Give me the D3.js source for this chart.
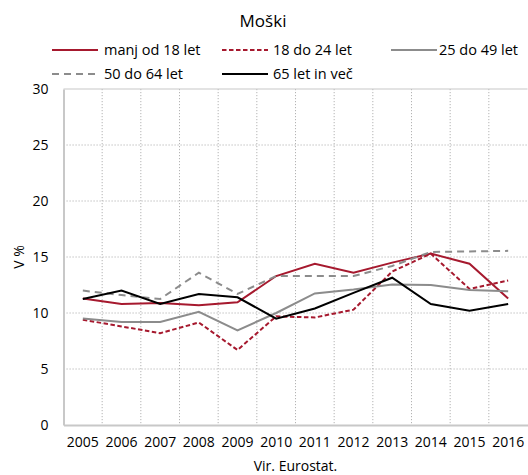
<!DOCTYPE html>
<html>
<head>
<meta charset="utf-8">
<script src="https://cdn.jsdelivr.net/npm/d3@7"></script>
<style>
  html, body { margin: 0; padding: 0; background: #fff; }
  svg { display: block; font-family: "Open Sans", "Noto Sans", sans-serif; }
</style>
</head>
<body>
<div id="chart"></div>
<script>
// Years on the category axis
const years = ["2005","2006","2007","2008","2009","2010","2011","2012","2013","2014","2015","2016"];

// Share by age group, in %
const under18   = [11.3, 10.8, 10.9, 10.7, 10.95, 13.3, 14.4, 13.6, 14.5, 15.3, 14.4, 11.3];
const age18to24 = [9.4, 8.8, 8.2, 9.15, 6.7, 9.7, 9.6, 10.3, 13.7, 15.3, 12.15, 12.9];
const age25to49 = [9.5, 9.2, 9.2, 10.1, 8.45, 10.0, 11.75, 12.1, 12.55, 12.5, 12.05, 11.95];
const age50to64 = [12.0, 11.6, 11.25, 13.6, 11.7, 13.3, 13.3, 13.3, 14.2, 15.45, 15.5, 15.55];
const age65plus = [11.25, 12.0, 10.8, 11.7, 11.4, 9.5, 10.4, 11.8, 13.15, 10.8, 10.2, 10.8];

const seriesNames = ["manj od 18 let", "18 do 24 let", "25 do 49 let", "50 do 64 let", "65 let in več"];
const yTicks = [0, 5, 10, 15, 20, 25, 30];

const title = "Moški";
const yLabel = "V %";
const source = "Vir. Eurostat.";

const series = [
  { name: seriesNames[0], values: under18,   color: "#a6192e", dash: null },
  { name: seriesNames[1], values: age18to24, color: "#a6192e", dash: "4.5,2.5" },
  { name: seriesNames[2], values: age25to49, color: "#8c8c8c", dash: null },
  { name: seriesNames[3], values: age50to64, color: "#8c8c8c", dash: "7,5" },
  { name: seriesNames[4], values: age65plus, color: "#000000", dash: null }
];

const W = 528, H = 475;
const plot = { left: 63.5, right: 527.5, top: 89, bottom: 425 };

const svg = d3.select("#chart").append("svg")
  .attr("width", W).attr("height", H);

const x = d3.scaleBand().domain(years).range([plot.left, plot.right]);
const y = d3.scaleLinear().domain([0, 30]).range([plot.bottom, plot.top]);
const cx = yr => x(yr) + x.bandwidth() / 2;

const gridColor = "#b4b4b4";

// Dotted horizontal gridlines
svg.append("g").selectAll("line")
  .data(yTicks.filter(t => t > 0 && t < 30))
  .join("line")
  .attr("x1", plot.left).attr("x2", plot.right)
  .attr("y1", d => y(d)).attr("y2", d => y(d))
  .attr("stroke", gridColor).attr("stroke-width", 1)
  .attr("stroke-dasharray", "1.2,1.8");

// Dotted vertical gridlines at category boundaries
svg.append("g").selectAll("line")
  .data(years.slice(1))
  .join("line")
  .attr("x1", d => x(d)).attr("x2", d => x(d))
  .attr("y1", plot.top).attr("y2", plot.bottom)
  .attr("stroke", gridColor).attr("stroke-width", 1)
  .attr("stroke-dasharray", "1.2,1.8");

// Top edge of the plot frame
svg.append("line")
  .attr("x1", plot.left).attr("x2", plot.right)
  .attr("y1", y(30)).attr("y2", y(30))
  .attr("stroke", "#c8c8c8").attr("stroke-width", 1.2);

// Y axis
const yAxis = svg.append("g")
  .attr("transform", `translate(${plot.left},0)`)
  .call(d3.axisLeft(y).tickValues(yTicks).tickSize(0).tickPadding(15));
yAxis.select(".domain").attr("stroke", "#c8c8c8").attr("stroke-width", 2);
yAxis.selectAll("text")
  .attr("font-size", 14).attr("fill", "#000")
  .attr("font-family", "'Open Sans', sans-serif");

// X axis
const xAxis = svg.append("g")
  .attr("transform", `translate(0,${plot.bottom})`)
  .call(d3.axisBottom(x).tickSize(0).tickPadding(12));
xAxis.select(".domain").attr("stroke", "#c8c8c8").attr("stroke-width", 2);
xAxis.selectAll("text")
  .attr("font-size", 14).attr("fill", "#000")
  .attr("font-family", "'Open Sans', sans-serif");

// Series lines
const line = d3.line()
  .x((d, i) => cx(years[i]))
  .y(d => y(d));

svg.append("g").selectAll("path")
  .data(series)
  .join("path")
  .attr("d", d => line(d.values))
  .attr("fill", "none")
  .attr("stroke", d => d.color)
  .attr("stroke-width", 2)
  .attr("stroke-dasharray", d => d.dash)
  .attr("stroke-linejoin", "miter");

// Title
svg.append("text")
  .attr("x", 263).attr("y", 27)
  .attr("text-anchor", "middle")
  .attr("font-size", 17).attr("fill", "#000")
  .text(title);

// Legend
const legendPos = [
  { lx: 52, ly: 50, tx: 52 },
  { lx: 222, ly: 50, tx: 51 },
  { lx: 391, ly: 50, tx: 48 },
  { lx: 52, ly: 74, tx: 52 },
  { lx: 222, ly: 74, tx: 51 }
];
const legend = svg.append("g").selectAll("g")
  .data(series)
  .join("g")
  .attr("transform", (d, i) => `translate(${legendPos[i].lx},${legendPos[i].ly})`);
legend.append("line")
  .attr("x1", 0).attr("x2", 46).attr("y1", 0).attr("y2", 0)
  .attr("stroke", d => d.color).attr("stroke-width", 2)
  .attr("stroke-dasharray", d => d.dash);
legend.append("text")
  .attr("x", (d, i) => legendPos[i].tx).attr("y", 5)
  .attr("font-size", 14.5).attr("fill", "#000")
  .text(d => d.name);

// Y axis title
svg.append("text")
  .attr("transform", `translate(24,${(plot.top + plot.bottom) / 2}) rotate(-90)`)
  .attr("text-anchor", "middle")
  .attr("font-size", 14).attr("fill", "#000")
  .text(yLabel);

// Source note
svg.append("text")
  .attr("x", (plot.left + plot.right) / 2).attr("y", 471)
  .attr("text-anchor", "middle")
  .attr("font-size", 14).attr("fill", "#000")
  .text(source);
</script>
</body>
</html>
